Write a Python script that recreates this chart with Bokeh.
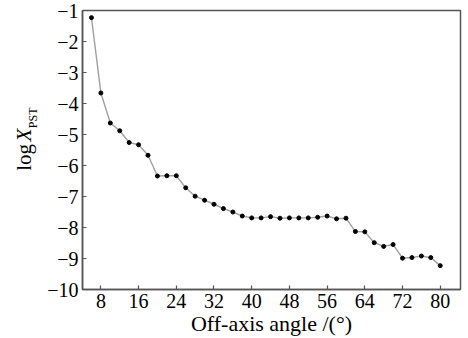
import math
from bokeh.plotting import figure
from bokeh.models import Range1d, FixedTicker
from bokeh.layouts import row
from bokeh.core.properties import value
from bokeh.embed import file_html
from bokeh.resources import INLINE

angles = [6, 8, 10, 12, 14, 16, 18, 20, 22, 24, 26, 28, 30, 32, 34, 36, 38, 40,
          42, 44, 46, 48, 50, 52, 54, 56, 58, 60, 62, 64, 66, 68, 70, 72, 74, 76, 78, 80]
log_x = [-1.23, -3.66, -4.63, -4.88, -5.26, -5.33, -5.67, -6.34, -6.33, -6.33,
         -6.72, -6.99, -7.12, -7.25, -7.39, -7.50, -7.63, -7.69, -7.69, -7.65,
         -7.70, -7.69, -7.69, -7.69, -7.67, -7.63, -7.72, -7.70, -8.13, -8.14,
         -8.49, -8.61, -8.55, -8.99, -8.97, -8.92, -8.97, -9.23]
x_ticks = [8, 16, 24, 32, 40, 48, 56, 64, 72, 80]
y_ticks = [-10, -9, -8, -7, -6, -5, -4, -3, -2, -1]

FONT = "Liberation Serif"
TOTAL_H = 338
LAB_W = 40

# ---- narrow panel holding the y-axis title (log X_PST) ----
lab = figure(width=LAB_W, height=TOTAL_H, output_backend="svg", toolbar_location=None,
             x_range=Range1d(0, LAB_W), y_range=Range1d(0, TOTAL_H),
             min_border=0, outline_line_color=None)
lab.axis.visible = False
lab.grid.visible = False
lab.text(x=[23], y=[TOTAL_H - 178], text=["log"], angle=math.pi / 2,
         text_font=value(FONT), text_font_size="21px", text_align="center",
         text_baseline="middle", text_color="black")
lab.text(x=[23], y=[TOTAL_H - 151], text=["X"], angle=math.pi / 2,
         text_font=value(FONT), text_font_size="21px", text_font_style="italic",
         text_align="center", text_baseline="middle", text_color="black")
lab.text(x=[32], y=[TOTAL_H - 130], text=["PST"], angle=math.pi / 2,
         text_font=value(FONT), text_font_size="12px", text_align="center",
         text_baseline="middle", text_color="black")

# ---- main plot ----
p = figure(width=468 - LAB_W, height=TOTAL_H, output_backend="svg", toolbar_location=None,
           x_range=Range1d(4.1, 84.3), y_range=Range1d(-10, -1),
           min_border_left=82 - LAB_W, min_border_top=10, min_border_right=8,
           min_border_bottom=46)
p.grid.visible = False
p.outline_line_color = "#555555"
p.outline_line_width = 1.5

p.line(angles, log_x, line_color="#a0a0a0", line_width=1.4)
p.scatter(angles, log_x, size=4, fill_color="black", line_color="black")

for ax in (p.xaxis[0], p.yaxis[0]):
    ax.axis_line_color = "#555555"
    ax.axis_line_width = 1.5
    ax.major_tick_in = 4
    ax.major_tick_out = 0
    ax.major_tick_line_color = "#555555"
    ax.major_tick_line_width = 1.2
    ax.minor_tick_line_color = None
    ax.major_label_text_font = FONT
    ax.major_label_text_font_size = "20px"
    ax.major_label_text_color = "black"
    ax.major_label_standoff = 4

p.xaxis.ticker = FixedTicker(ticks=x_ticks)
p.yaxis.ticker = FixedTicker(ticks=y_ticks)
p.yaxis.major_label_overrides = {t: "\u2212" + str(abs(t)) for t in y_ticks}

p.xaxis.axis_label = "Off-axis angle /(\u00b0)"
p.xaxis.axis_label_text_font = FONT
p.xaxis.axis_label_text_font_size = "22px"
p.xaxis.axis_label_text_font_style = "normal"
p.xaxis.axis_label_text_color = "black"
p.xaxis.axis_label_standoff = 0

layout = row(lab, p, spacing=0)
open("out.html", "w").write(file_html(layout, INLINE))
